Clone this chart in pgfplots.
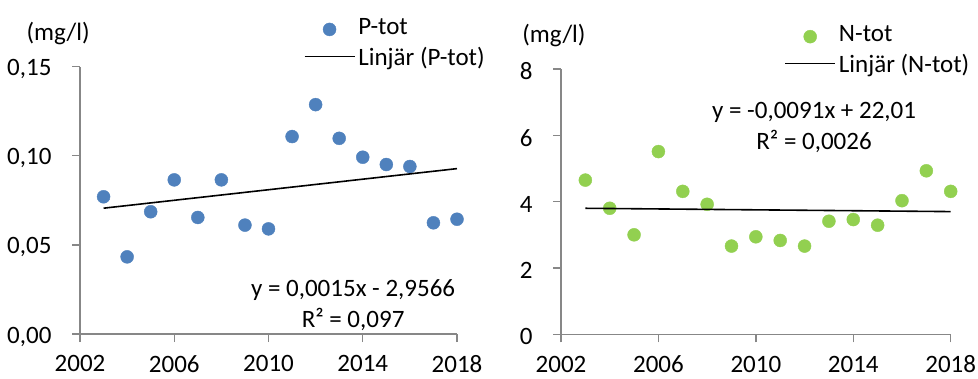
\documentclass[border=0pt]{standalone}
\usepackage{pgfplots}
\pgfplotsset{compat=1.18}
\usepackage{fontspec}
\setmainfont{Carlito}
\definecolor{pblue}{HTML}{4F81BD}
\definecolor{ngreen}{HTML}{92D050}
\definecolor{axgray}{HTML}{878787}
\newcommand{\fs}{\fontsize{25}{31}\selectfont}
\pgfplotsset{
  common/.style={
    scale only axis, clip mode=individual,
    axis x line*=bottom, axis y line*=left,
    axis line style={axgray, line width=1.3pt, -},
    tick align=outside,
    major tick length=8pt,
    xtick style={axgray, line width=1.3pt},
    ytick style={axgray, line width=1.3pt},
    xmin=2002, xmax=2018, xtick={2002,2006,2010,2014,2018},
    minor tick num=0,
    ticklabel style={font=\fs, black},
    /pgf/number format/assume math mode=true,
    xticklabel style={/pgf/number format/1000 sep={}, yshift=-10pt},
    yticklabel style={xshift=-17pt, yshift=-2.5pt},
    legend style={draw=none, fill=none, font=\fs, anchor=north west,
      nodes={inner sep=3pt, text height=16pt, text depth=6pt},
      row sep=3pt},
    legend cell align=left,
  },
  markimg/.style={legend image code/.code={\draw[mark repeat=2,mark phase=2,##1] plot coordinates {(0pt,0pt) (25pt,0pt) (50pt,0pt)};}},
  lineimg/.style={legend image code/.code={\draw[##1] (0pt,4pt) -- (50pt,4pt);}},
}
\begin{document}
\begin{tikzpicture}[x=1pt,y=1pt]
\path[use as bounding box] (0,0) rectangle (978,378);
\begin{axis}[common,
  at={(80pt,44pt)}, anchor=south west,
  width=377pt, height=267.3pt,
  ymin=0, ymax=0.15, ytick={0,0.05,0.10,0.15},
  yticklabel style={/pgf/number format/.cd, fixed, fixed zerofill, precision=2, use comma},
  legend style={at={(0.585,1.2)}},
]
\addplot[only marks, mark=*, mark size=6.5pt, color=pblue, markimg] coordinates {
(2003,0.0770) (2004,0.0433) (2005,0.0686) (2006,0.0865) (2007,0.0654) (2008,0.0865)
(2009,0.0611) (2010,0.0590) (2011,0.1108) (2012,0.1287) (2013,0.1098) (2014,0.0992)
(2015,0.0951) (2016,0.0940) (2017,0.0624) (2018,0.0644)};
\addlegendentry{P-tot}
\addplot[black, line width=1.6pt, lineimg] coordinates {(2003,0.0706) (2018,0.0928)};
\addlegendentry{Linjär (P-tot)}
\node[font=\fs, align=center] at (axis cs:2013.59,0.0163) {y = 0,0015x - 2,9566\\R² = 0,097};
\node[font=\fs] at (axis description cs:-0.058,1.126) {(mg/l)};
\end{axis}
\begin{axis}[common,
  at={(561pt,43.7pt)}, anchor=south west,
  width=389.7pt, height=265.3pt,
  ymin=0, ymax=8, ytick={0,2,4,6,8},
  legend style={at={(0.565,1.183)}},
]
\addplot[only marks, mark=*, mark size=6.5pt, color=ngreen, markimg] coordinates {
(2003,4.65) (2004,3.80) (2005,3.00) (2006,5.51) (2007,4.31) (2008,3.92)
(2009,2.66) (2010,2.94) (2011,2.83) (2012,2.66) (2013,3.41) (2014,3.46)
(2015,3.29) (2016,4.03) (2017,4.93) (2018,4.31)};
\addlegendentry{N-tot}
\addplot[black, line width=1.6pt, lineimg] coordinates {(2003,3.80) (2018,3.70)};
\addlegendentry{Linjär (N-tot)}
\node[font=\fs, align=center] at (axis cs:2012.39,6.236) {y = -0,0091x + 22,01\\R² = 0,0026};
\node[font=\fs] at (axis description cs:-0.018,1.128) {(mg/l)};
\end{axis}
\end{tikzpicture}
\end{document}
